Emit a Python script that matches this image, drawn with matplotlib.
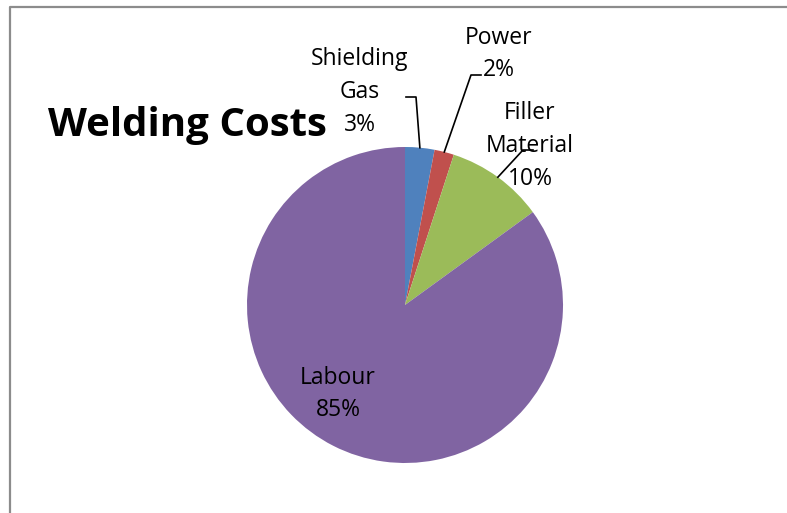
import matplotlib
matplotlib.use("Agg")
from matplotlib import pyplot as plt
import numpy as np

# data
names = ["Shielding\nGas", "Power", "Filler\nMaterial", "Labour"]
shares = [3, 2, 10, 85]
colours = ["#4F81BD", "#C0504D", "#9BBB59", "#8064A2"]

W, H = 787, 513
fig = plt.figure(figsize=(W / 100, H / 100), dpi=100)
ax = fig.add_axes([0, 0, 1, 1])

font = "Open Sans"

# pie: centre and radius in pixel units (y measured from bottom)
cx, cy, r = 405, H - 305, 158
wedges, _ = ax.pie(shares, colors=colours, startangle=90, counterclock=False,
                   center=(cx, cy), radius=r, frame=True,
                   wedgeprops=dict(linewidth=0))
ax.set_xlim(0, W)
ax.set_ylim(0, H)
ax.set_aspect("equal")
ax.axis("off")

# label positions (pixel coords, from top) and leader elbows
label_pos = [(360, 92), (499, 54), (530, 146), (338, 394)]
elbows = [[(406, 97), (416, 97)], [(481, 75), (471, 75)], [(533, 150), (523, 150)], None]

for w, name, val, (lx, ly), elb in zip(wedges, names, shares, label_pos, elbows):
    ax.text(lx, H - ly, "%s\n%d%%" % (name, val), ha="center", va="center",
            fontsize=16.5, family=font, linespacing=1.5)
    if elb is not None:
        mid = np.deg2rad((w.theta1 + w.theta2) / 2)
        ex, ey = cx + r * np.cos(mid), cy + r * np.sin(mid)
        xs = [p[0] for p in elb] + [ex]
        ys = [H - p[1] for p in elb] + [ey]
        ax.plot(xs, ys, color="black", lw=1.2)

# title
ax.text(48, H - 136, "Welding Costs", ha="left", va="baseline",
        fontsize=29, fontweight="bold", family=font)

# chart frame (left and top edges only are visible)
ax.plot([10, 10, W], [0, H - 7, H - 7], color="#8c8c8c", lw=1.6)

fig.savefig("out.png", dpi=100)
